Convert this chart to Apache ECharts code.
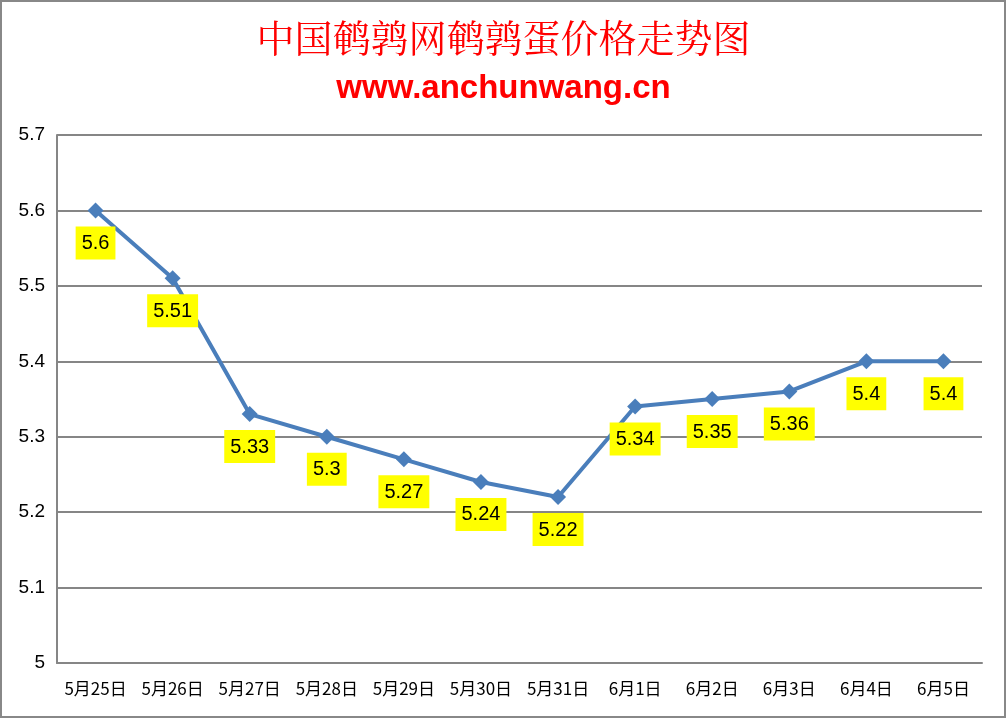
<!DOCTYPE html>
<html><head><meta charset="utf-8">
<script src="https://cdn.jsdelivr.net/npm/echarts@6/dist/echarts.min.js"></script>
<style>html,body{margin:0;padding:0;background:#fff}#c{width:1007px;height:719px}</style>
</head><body><div id="c"></div>
<script>
const categories = ['5月25日','5月26日','5月27日','5月28日','5月29日','5月30日','5月31日','6月1日','6月2日','6月3日','6月4日','6月5日'];
const prices = [5.6, 5.51, 5.33, 5.3, 5.27, 5.24, 5.22, 5.34, 5.35, 5.36, 5.4, 5.4];
const yTicks = {min: 5, max: 5.7, interval: 0.1};
const titleText = '中国鹌鹑网鹌鹑蛋价格走势图';
const subText = 'www.anchunwang.cn';

const chart = echarts.init(document.getElementById('c'));
chart.setOption({
  animation: false,
  backgroundColor: '#fff',
  title: [{
    text: titleText, left: 'center', top: 14,
    textStyle: {color: '#ff0000', fontSize: 38, fontWeight: 'normal', fontFamily: '"Noto Serif CJK SC","Noto Sans CJK SC",serif'}
  },{
    text: subText, left: 'center', top: 67,
    textStyle: {color: '#ff0000', fontSize: 33, fontWeight: 'bold', fontFamily: '"Liberation Sans",Arial,sans-serif'}
  }],
  graphic: [{type: 'rect', shape: {x: 1, y: 1, width: 1004, height: 716}, style: {fill: 'none', stroke: '#888', lineWidth: 2}, silent: true}],
  grid: {left: 57, right: 25, top: 135, bottom: 56},
  xAxis: {
    type: 'category', data: categories, boundaryGap: true,
    axisLine: {lineStyle: {color: '#868686', width: 2}},
    axisTick: {show: false},
    axisLabel: {interval: 0, color: '#000', fontSize: 17, margin: 17, fontFamily: '"Noto Sans CJK SC",sans-serif'}
  },
  yAxis: {
    type: 'value', min: yTicks.min, max: yTicks.max, interval: yTicks.interval,
    axisLine: {show: true, lineStyle: {color: '#868686', width: 2}},
    axisTick: {show: false},
    splitLine: {lineStyle: {color: '#868686', width: 2}},
    axisLabel: {color: '#000', fontSize: 19, margin: 12, fontFamily: '"Liberation Sans",sans-serif',
      formatter: v => (Math.round(v*10)/10).toString()}
  },
  series: [{
    type: 'line', data: prices,
    symbol: 'diamond', symbolSize: 16,
    lineStyle: {color: '#4a7ebb', width: 4},
    itemStyle: {color: '#4a7ebb'},
    label: {show: true, position: 'bottom', distance: 8, color: '#000', fontSize: 20,
      fontFamily: '"Liberation Sans",sans-serif', backgroundColor: '#ffff00', padding: [7, 6, 6, 6]}
  }]
});
</script></body></html>
